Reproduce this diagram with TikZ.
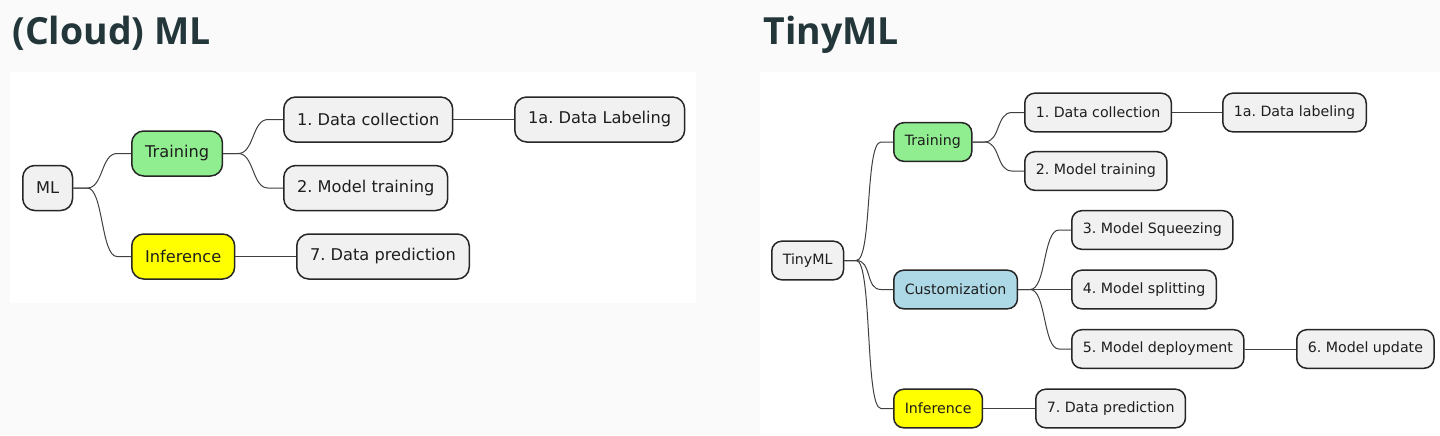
\documentclass[tikz,border=0pt]{standalone}
\usepackage{fontspec}
\newfontfamily\dejavu{DejaVu Sans}
\newfontfamily\titlefont{Open Sans}
\usetikzlibrary{calc}
\frenchspacing

\definecolor{slidebg}{HTML}{FAFAFA}
\definecolor{titleteal}{HTML}{23373B}
\definecolor{nodegray}{HTML}{F1F1F1}
\definecolor{nodeedge}{HTML}{262626}
\definecolor{nodetext}{HTML}{1E1E1E}
\definecolor{trainfill}{HTML}{90EE90}
\definecolor{custfill}{HTML}{ADD8E6}
\definecolor{inferfill}{HTML}{FFFF00}

\tikzset{
  box/.style={draw=nodeedge,line width=0.75pt,fill=nodegray,text=nodetext,anchor=west},
  bigbox/.style={box,rounded corners=6pt,minimum height=22.5pt,inner xsep=6.7pt,
    font=\dejavu\fontsize{8.1pt}{10pt}\selectfont},
  smallbox/.style={box,rounded corners=5pt,minimum height=19.3pt,inner xsep=5.5pt,
    font=\dejavu\fontsize{7.1pt}{9pt}\selectfont},
  link/.style={draw=black!75,line width=0.5pt},
  branch/.style={link,to path={-- ++(#1,0)
    .. controls +(16,0) and +(-16,0) .. ($(\tikztotarget)+(-#1,0)$)
    -- (\tikztotarget)}},
  branch/.default=13,
  heading/.style={anchor=base west,text=titleteal,inner sep=0pt,
    font=\titlefont\bfseries\fontsize{18.7pt}{19pt}\selectfont}
}

\begin{document}
\begin{tikzpicture}[x=0.5pt,y=-0.5pt]
  \fill[slidebg] (0,0) rectangle (1440,435);
  \useasboundingbox (0,0) rectangle (1440,435);
  \fill[white] (10,72) rectangle (696,303);
  \fill[white] (760,72) rectangle (1440,435);

  \node[heading] (cloudtitle) at (12,44) {(Cloud) ML};
  \node[heading] (tinytitle) at (763,44) {TinyML};

  % (Cloud) ML
  \node[bigbox] (ml) at (22,188) {ML};
  \node[bigbox,fill=trainfill] (train) at (131,153.5) {Training};
  \node[bigbox,fill=inferfill] (infer) at (131,256.5) {Inference};
  \node[bigbox] (coll) at (283,119.5) {1. Data collection};
  \node[bigbox] (mtrain) at (283,188) {2. Model training};
  \node[bigbox] (pred) at (296,256.5) {7. Data prediction};
  \node[bigbox] (label) at (514,119.5) {1a. Data Labeling};

  \draw[branch=14] (ml.east) to (train.west);
  \draw[branch=14] (ml.east) to (infer.west);
  \draw[branch=15] (train.east) to (coll.west);
  \draw[branch=15] (train.east) to (mtrain.west);
  \draw[link] (infer.east) -- (pred.west);
  \draw[link] (coll.east) -- (label.west);

  % TinyML
  \node[smallbox] (tiny) at (771,260.5) {TinyML};
  \node[smallbox,fill=trainfill] (ttrain) at (893,142) {Training};
  \node[smallbox,fill=custfill] (cust) at (893,289.5) {Customization};
  \node[smallbox,fill=inferfill] (tinfer) at (893,408.5) {Inference};
  \node[smallbox] (tcoll) at (1024,112.5) {1. Data collection};
  \node[smallbox] (tmtrain) at (1024,171) {2. Model training};
  \node[smallbox] (squeeze) at (1071,230) {3. Model Squeezing};
  \node[smallbox] (split) at (1071,289.5) {4. Model splitting};
  \node[smallbox] (deploy) at (1071,349) {5. Model deployment};
  \node[smallbox] (tpred) at (1035,408.5) {7. Data prediction};
  \node[smallbox] (tlabel) at (1222,112.5) {1a. Data labeling};
  \node[smallbox] (update) at (1296,349) {6. Model update};

  \draw[branch=12] (tiny.east) to (ttrain.west);
  \draw[branch=12] (tiny.east) to (cust.west);
  \draw[branch=12] (tiny.east) to (tinfer.west);
  \draw[branch=12] (ttrain.east) to (tcoll.west);
  \draw[branch=12] (ttrain.east) to (tmtrain.west);
  \draw[branch=12] (cust.east) to (squeeze.west);
  \draw[link] (cust.east) -- (split.west);
  \draw[branch=12] (cust.east) to (deploy.west);
  \draw[link] (tinfer.east) -- (tpred.west);
  \draw[link] (tcoll.east) -- (tlabel.west);
  \draw[link] (deploy.east) -- (update.west);
\end{tikzpicture}
\end{document}
